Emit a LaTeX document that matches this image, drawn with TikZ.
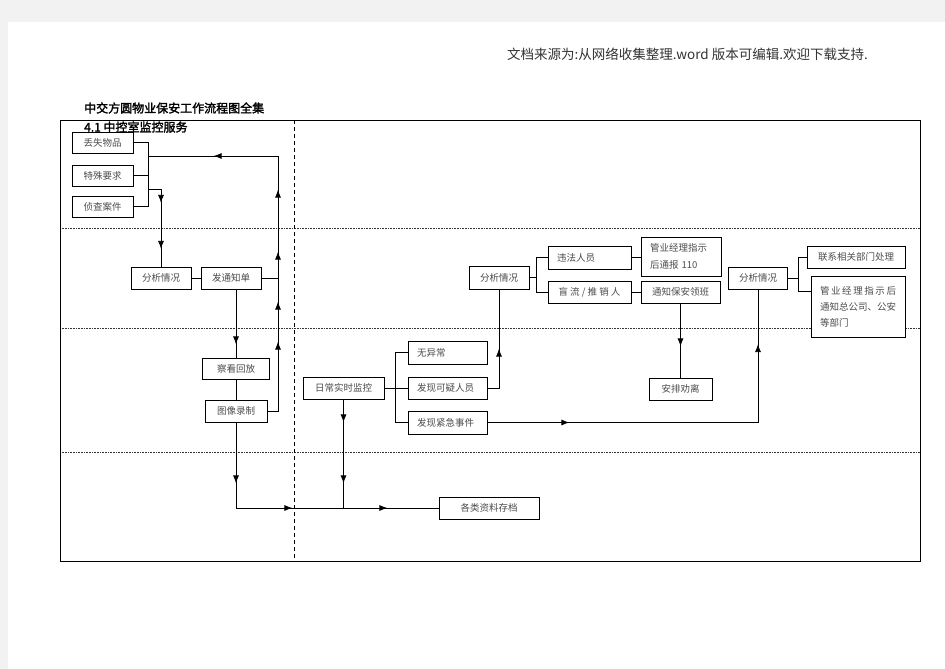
\documentclass[tikz,border=0pt]{standalone}
\usepackage{fontspec}
\newfontfamily\cjk{Noto Sans CJK SC}[AutoFakeBold=2]
\usetikzlibrary{arrows.meta, decorations.markings, calc, positioning}

\begin{document}
\begin{tikzpicture}[x=1pt, y=-1pt, >={Latex[length=8pt,width=6pt]},
    box/.style={draw, fill=white, line width=0.8pt, inner sep=1pt, text=black!70,
      font=\cjk\fontsize{9.5}{12}\selectfont},
    lbox/.style={box, align=left, inner xsep=9pt},
    link/.style={line width=0.8pt},
    arr/.style={postaction={decorate, decoration={markings, mark=at position #1 with {\arrow{>}}}}},
    lane/.style={line width=0.6pt, dash pattern=on 0.8pt off 0.8pt, black!80},
    split/.style={line width=0.8pt, dash pattern=on 4pt off 3pt}]

  % Pagina
  \fill[black!5] (0,0) rectangle (945,669);
  \fill[white] (8,22) rectangle (945,669);
  \useasboundingbox (0,0) rectangle (945,669);

  % Intestazione
  \node[anchor=west, inner sep=0pt, text=black!80, font=\cjk\fontsize{13.5}{15}\selectfont] (src) at (507,54)
      {文档来源为:从网络收集整理.word 版本可编辑.欢迎下载支持.};
  \node[anchor=west, inner sep=0pt, font=\cjk\bfseries\fontsize{12}{14}\selectfont] (title) at (84,108)
      {中交方圆物业保安工作流程图全集};

  % Cornice e corsie
  \foreach \y in {228,328,452}
    \draw[lane] (60,\y) -- (920,\y);
  \draw[split] (294,120) -- (294,561);
  \draw[line width=0.9pt] (60,120) rectangle (920,561);
  \node[anchor=west, inner sep=0pt, font=\cjk\bfseries\fontsize{12}{14}\selectfont] (sub) at (84,127)
      {4.1 中控室监控服务};

  % Colonna sinistra
  \node[box, minimum width=61pt, minimum height=21pt] (lost) at (102.5,142.5) {丢失物品};
  \node[box, minimum width=61pt, minimum height=21pt] (special) at (102.5,175.5) {特殊要求};
  \node[box, minimum width=61pt, minimum height=21pt] (case) at (102.5,206.5) {侦查案件};
  \node[box, minimum width=60pt, minimum height=22pt] (anaL) at (161,278) {分析情况};
  \node[box, minimum width=60pt, minimum height=22pt] (notice) at (231,278) {发通知单};
  \node[box, minimum width=67pt, minimum height=21pt] (replay) at (236,368.5) {察看回放};
  \node[box, minimum width=62pt, minimum height=22pt] (record) at (236,411) {图像录制};

  % Colonna centrale
  \node[box, minimum width=81pt, minimum height=22pt] (monitor) at (343.5,388) {日常实时监控};
  \node[lbox, text width=61pt, minimum height=23pt] (normal) at (447.5,352.5) {无异常};
  \node[lbox, text width=61pt, minimum height=22pt] (suspect) at (447.5,388) {发现可疑人员};
  \node[lbox, text width=61pt, minimum height=23pt] (emerg) at (447.5,422.5) {发现紧急事件};
  \node[box, minimum width=100pt, minimum height=22pt] (archive) at (489,508) {各类资料存档};
  \node[box, minimum width=60pt, minimum height=23pt] (anaM) at (499,277.5) {分析情况};
  \node[lbox, text width=65pt, minimum height=23pt] (illegal) at (589.5,257.5) {违法人员};
  \node[box, minimum width=83pt, minimum height=22pt] (vagrant) at (589.5,292) {盲 流 / 推 销 人};
  \node[lbox, text width=62pt, minimum height=39pt, font=\cjk\fontsize{9.5}{17}\selectfont] (report) at (681,256.5)
      {管业经理指示\\后通报 110};
  \node[box, minimum width=79pt, minimum height=22pt] (leader) at (680.5,292) {通知保安领班};
  \node[box, minimum width=63pt, minimum height=22pt] (leave) at (680.5,389) {安排劝离};

  % Colonna destra
  \node[box, minimum width=59pt, minimum height=22pt] (anaR) at (758,278) {分析情况};
  \node[box, minimum width=98pt, minimum height=22pt] (contact) at (856,257) {联系相关部门处理};
  \node[lbox, text width=76pt, minimum height=61pt, font=\cjk\fontsize{9.5}{16}\selectfont] (hq) at (858,306.5)
      {\makebox[76pt]{管\hfill 业\hfill 经\hfill 理\hfill 指\hfill 示\hfill 后}\\通知总公司、公安\\等部门};

  % Collegamenti a sinistra
  \draw[link] (lost.east) -- ++(14.5,0) coordinate (sL) |- (case.east);
  \draw[link] (special.east) -- (special.east -| sL);
  \coordinate (rl) at (278,156);
  \draw[link, arr=80pt, arr=120pt, arr=170pt, arr=232pt, arr=330pt]
      (record.east) -| (rl) -- (rl -| sL);
  \draw[link] (notice.east) -- (notice.east -| rl);
  \draw[link, arr=27pt, arr=73pt] (sL |- 0,189) -| (anaL.north);
  \draw[link] (anaL.east) -- (notice.west);
  \draw[link, arr=55pt] (replay.north |- notice.south) -- (replay.north);
  \draw[link] (replay.south) -- (record.north);
  \draw[link, arr=61pt, arr=142pt, arr=237pt] (record.south) |- (archive.west);
  \draw[link, arr=23pt, arr=84pt] (monitor.south) -- (monitor.south |- archive.west);

  % Collegamenti al centro
  \draw[link] (normal.west) -- ++(-12,0) coordinate (sM) |- (emerg.west);
  \draw[link] (monitor.east) -- (suspect.west);
  \draw[link, arr=51pt] (suspect.east) -| (anaM.south);
  \draw[link, arr=82pt, arr=349pt] (emerg.east) -| (anaR.south);
  \draw[link] (illegal.west) -- ++(-11,0) coordinate (sR) |- (vagrant.west);
  \draw[link] (anaM.east) -- (anaM.east -| sR);
  \draw[link] (illegal.east) -- (report.west |- illegal.east);
  \draw[link] (vagrant.east) -- (leader.west);
  \draw[link, arr=43pt] (leader.south) -- (leave.north);

  % Collegamenti a destra
  \coordinate (hqTick) at ($(hq.north west)+(0,16)$);
  \draw[link] (contact.west) -- ++(-8,0) coordinate (sX) |- (hqTick);
  \draw[link] (anaR.east) -- (anaR.east -| sX);

\end{tikzpicture}
\end{document}
